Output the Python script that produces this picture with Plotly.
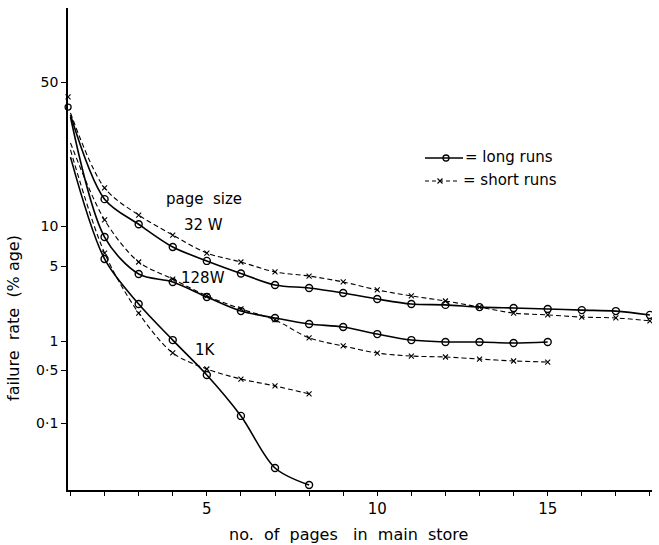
import numpy as np
import plotly.graph_objects as go

# ---------------- data (failure rate, % age) ----------------
pages_32w = list(range(1, 19))
long_32w = [34.6, 13.5, 10.2, 6.95, 5.46, 4.26, 3.33, 3.12, 2.80, 2.46,
            2.21, 2.17, 2.07, 2.03, 1.99, 1.94, 1.90, 1.75]
short_32w = [35.4, 15.3, 11.3, 8.55, 6.26, 5.36, 4.40, 4.03, 3.55, 2.99,
             2.63, 2.36, 2.07, 1.82, 1.75, 1.67, 1.64, 1.54]

pages_128w = list(range(1, 16))
long_128w = [33.8, 8.26, 4.21, 3.55, 2.57, 1.90, 1.64, 1.44, 1.35, 1.16,
             1.02, 0.977, 0.977, 0.954, 0.977]
short_128w = [25.3, 10.7, 5.36, 3.78, 2.63, 1.99, 1.57, 1.07, 0.888, 0.750,
              0.698, 0.682, 0.650, 0.620, 0.605]

pages_1k = list(range(1, 9))
long_1k = [21.6, 5.65, 2.21, 1.02, 0.43, 0.124, 0.0255, 0.0152]
short_1k = [23.4, 6.26, 1.82, 0.751, 0.512, 0.380, 0.308, 0.242]

single_page_x = [0.93]
single_page_long = [37.8]
single_page_short = [42.3]

y_tick_values = [0.1, 0.5, 1, 5, 10, 50]
y_tick_labels = ["0·1", "0·5", "1", "5", "10", "50"]
x_tick_values = list(range(1, 19))
x_tick_labels = ["" if v not in (5, 10, 15) else str(v) for v in x_tick_values]

# ---------------- the hand-drawn (non-uniform) failure-rate scale ----------------
# scale anchors: log10(rate) -> axis position
scale_log = [-2.0, -1.0, np.log10(0.5), 0.0, np.log10(5), 1.0, np.log10(50), 2.1]
scale_pos = [-8.8, 67, 120, 149, 224, 264, 408, 490.6]


def yscale(vals):
    return list(np.interp(np.log10(np.asarray(vals, dtype=float)), scale_log, scale_pos))


FONT = "'DejaVu Sans', sans-serif"
fig = go.Figure()

solid = dict(color="black", width=1.6, shape="spline", smoothing=0.9)
dashed = dict(color="black", width=1.1, dash="5px,3px", shape="spline", smoothing=0.9)
o_mark = dict(symbol="circle-open", size=7, color="black", line=dict(width=1.4, color="black"))
x_mark = dict(symbol="x-thin-open", size=5, color="black", line=dict(width=1.1, color="black"))

for xs, ys in [(pages_32w, short_32w), (pages_128w, short_128w), (pages_1k, short_1k)]:
    fig.add_trace(go.Scatter(x=xs, y=yscale(ys), mode="lines", line=dashed,
                             hoverinfo="skip", showlegend=False))
    fig.add_trace(go.Scatter(x=xs[1:], y=yscale(ys[1:]), mode="markers", marker=x_mark,
                             showlegend=False))
for xs, ys in [(pages_32w, long_32w), (pages_128w, long_128w), (pages_1k, long_1k)]:
    fig.add_trace(go.Scatter(x=xs, y=yscale(ys), mode="lines", line=solid,
                             hoverinfo="skip", showlegend=False))
    fig.add_trace(go.Scatter(x=xs[1:], y=yscale(ys[1:]), mode="markers", marker=o_mark,
                             showlegend=False))

# single-page points drawn on the axis
fig.add_trace(go.Scatter(x=single_page_x, y=yscale(single_page_long), mode="markers",
                         marker=dict(symbol="circle-open", size=6, color="black",
                                     line=dict(width=1.3, color="black")),
                         cliponaxis=False, showlegend=False))
fig.add_trace(go.Scatter(x=single_page_x, y=yscale(single_page_short), mode="markers",
                         marker=dict(symbol="x-thin-open", size=5, color="black",
                                     line=dict(width=1.1, color="black")),
                         cliponaxis=False, showlegend=False))

# hand-drawn legend key (overlay axes in pixel units)
fig.add_trace(go.Scatter(x=[425, 463], y=[158, 158], mode="lines",
                         line=dict(color="black", width=1.6), xaxis="x2", yaxis="y2",
                         showlegend=False, hoverinfo="skip"))
fig.add_trace(go.Scatter(x=[446], y=[158], mode="markers",
                         marker=dict(symbol="circle-open", size=6, color="black",
                                     line=dict(width=1.3, color="black")),
                         xaxis="x2", yaxis="y2", showlegend=False))
fig.add_trace(go.Scatter(x=[425, 460], y=[181, 181], mode="lines",
                         line=dict(color="black", width=1.1, dash="4px,3px"),
                         xaxis="x2", yaxis="y2", showlegend=False, hoverinfo="skip"))
fig.add_trace(go.Scatter(x=[440], y=[181], mode="markers", marker=x_mark,
                         xaxis="x2", yaxis="y2", showlegend=False))

PL, PW, PB, PH = 68, 584, 490, 482
ann = []
SP = "&nbsp;"


def label(text, px, py, size=15, xanchor="center", angle=0):
    ann.append(dict(text=text, x=(px - PL) / PW, y=(PB - py) / PH,
                    xref="paper", yref="paper", showarrow=False,
                    xanchor=xanchor, yanchor="middle", textangle=angle,
                    font=dict(family=FONT, size=size, color="black")))


label("= long runs", 463, 157, 15, "left")
label("= short runs", 461, 180, 15, "left")
label("page" + SP * 2 + "size", 204, 199, 15)
label("32 W", 203, 225, 15)
label("128W", 203, 278, 15)
label("1K", 205, 350, 15)
label("failure" + SP * 2 + "rate" + SP * 2 + "(%" + SP + "age)", 14, 318, 16, angle=-90)
label("no." + SP * 2 + "of" + SP * 2 + "pages" + SP * 3 + "in" + SP * 2 + "main" + SP * 2 + "store",
      348, 534, 16)

fig.update_layout(
    width=659, height=545,
    margin=dict(l=PL, r=659 - PL - PW, t=PB - PH, b=545 - PB),
    paper_bgcolor="white", plot_bgcolor="white",
    font=dict(family=FONT, size=14, color="black"),
    annotations=ann,
    xaxis=dict(range=[0.927, 18.06], tickmode="array", tickvals=x_tick_values,
               ticktext=x_tick_labels, ticks="outside", ticklen=4, tickwidth=1.3,
               tickcolor="black", showline=True, linecolor="black", linewidth=1.8,
               showgrid=False, zeroline=False, tickfont=dict(size=15)),
    yaxis=dict(range=[0, PH], tickmode="array", tickvals=yscale(y_tick_values),
               ticktext=y_tick_labels, ticks="outside", ticklen=5, tickwidth=1.3,
               tickcolor="black", showline=True, linecolor="black", linewidth=1.8,
               showgrid=False, zeroline=False, tickfont=dict(size=14)),
    xaxis2=dict(range=[PL, PL + PW], overlaying="x", visible=False),
    yaxis2=dict(range=[PB, PB - PH], overlaying="y", visible=False),
)

fig.write_html("out.html")
